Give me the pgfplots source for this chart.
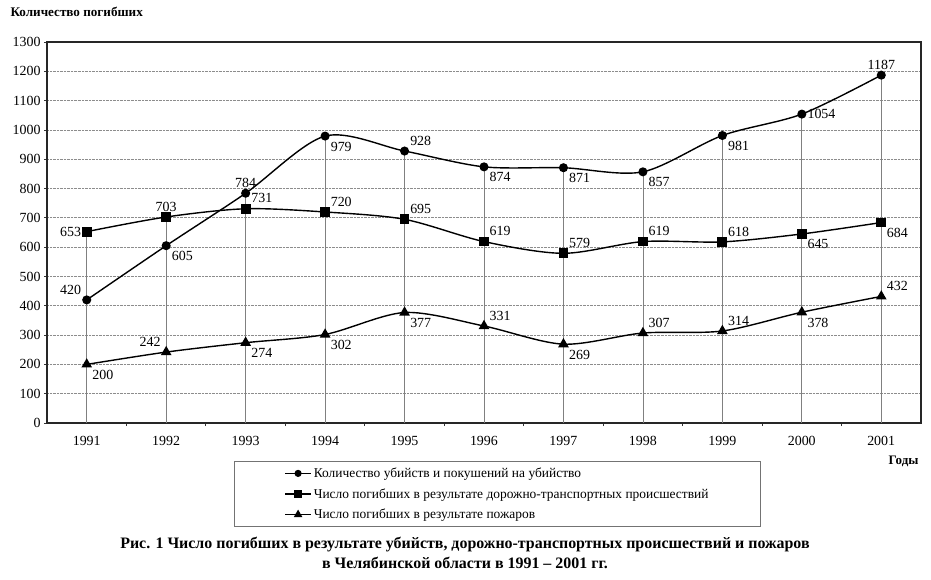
\documentclass[border=0pt]{standalone}
\usepackage{pgfplots}
\pgfplotsset{compat=1.18}
\usepackage{pgfplotstable}
\usepackage{fontspec}
\setmainfont{Liberation Serif}

% values and label anchors
\pgfplotstableread[col sep=comma]{
x,y,a
1991,420,south east
1992,605,north west
1993,784,south
1994,979,north west
1995,928,south west
1996,874,north west
1997,871,north west
1998,857,north west
1999,981,north west
2000,1054,west
2001,1187,south
}\murders

\pgfplotstableread[col sep=comma]{
x,y,a
1991,653,east
1992,703,south
1993,731,south west
1994,720,south west
1995,695,south west
1996,619,south west
1997,579,south west
1998,619,south west
1999,618,south west
2000,645,north west
2001,684,north west
}\roads

\pgfplotstableread[col sep=comma]{
x,y,a
1991,200,north west
1992,242,south east
1993,274,north west
1994,302,north west
1995,377,north west
1996,331,south west
1997,269,north west
1998,307,south west
1999,314,south west
2000,378,north west
2001,432,south west
}\fires

\pgfplotsset{series/.style={black, line width=1.4bp, smooth, tension=0.5,
  point meta=explicit symbolic,
  visualization depends on={y \as \yv},
  nodes near coords={\pgfmathprintnumber{\yv}},
  every node near coord/.append style={font=\fontsize{14}{16}\selectfont, anchor=\pgfplotspointmeta, inner sep=5bp}}}

\begin{document}
\begin{tikzpicture}[x=1bp,y=1bp]
\useasboundingbox (0,0) rectangle (931,-580);
\begin{axis}[
  at={(47bp,-423bp)}, anchor=south west,
  scale only axis, width=874bp, height=381bp,
  xmin=1990.5, xmax=2001.5, ymin=0, ymax=1300,
  xtick={1991,1992,...,2001},
  ytick={0,100,...,1300},
  minor xtick={1991.5,1992.5,...,2000.5},
  xtick pos=bottom, ytick pos=left,
  tick align=outside,
  major tick length=3bp, minor tick length=3bp,
  every major x tick/.style={draw=none},
  tick style={black!80, line width=0.8bp},
  ymajorgrids,
  grid style={densely dotted, black!45, line width=0.8bp},
  axis line style={black!85, line width=1.4bp},
  /pgf/number format/1000 sep={},
  /pgf/number format/assume math mode=true,
  ticklabel style={font=\fontsize{14}{16}\selectfont},
  xticklabel style={yshift=-7bp},
  legend style={at={(0.214,-0.0997)}, anchor=north west, draw=black!55, line width=0.7bp,
    inner xsep=50bp, inner ysep=4.5bp, row sep=5.5bp,
    font=\fontsize{13.5}{15}\selectfont},
  legend cell align=left,
  legend image code/.code={\draw[mark repeat=2,mark phase=2,#1,every mark/.append style={scale=0.75}]
    plot coordinates {(0bp,0bp)(13bp,0bp)(26bp,0bp)};},
]
\addplot[ycomb, black!50, line width=0.7bp, forget plot, no markers]
  coordinates {(1991,653) (1992,703) (1993,784) (1994,979) (1995,928) (1996,874)
               (1997,871) (1998,857) (1999,981) (2000,1054) (2001,1187)};
\addplot[series, mark=*, mark size=3.8bp] table[x=x, y=y, meta=a] {\murders};
\addlegendentry{Количество убийств и покушений на убийство}
\addplot[series, mark=square*, mark size=4.2bp] table[x=x, y=y, meta=a] {\roads};
\addlegendentry{Число погибших в результате дорожно-транспортных происшествий}
\addplot[series, mark=triangle*, mark size=4.8bp] table[x=x, y=y, meta=a] {\fires};
\addlegendentry{Число погибших в результате пожаров}
\end{axis}
\node[anchor=west, font=\bfseries\fontsize{13.2}{15}\selectfont] at (7,-12) {Количество погибших};
\node[anchor=east, font=\bfseries\fontsize{13}{15}\selectfont] at (922,-461) {Годы};
\node[align=center, font=\bfseries\fontsize{16}{20}\selectfont] at (465,-553)
  {Рис. 1 Число погибших в результате убийств, дорожно-транспортных происшествий и пожаров\\
   в Челябинской области в 1991 -- 2001 гг.};
\end{tikzpicture}
\end{document}
